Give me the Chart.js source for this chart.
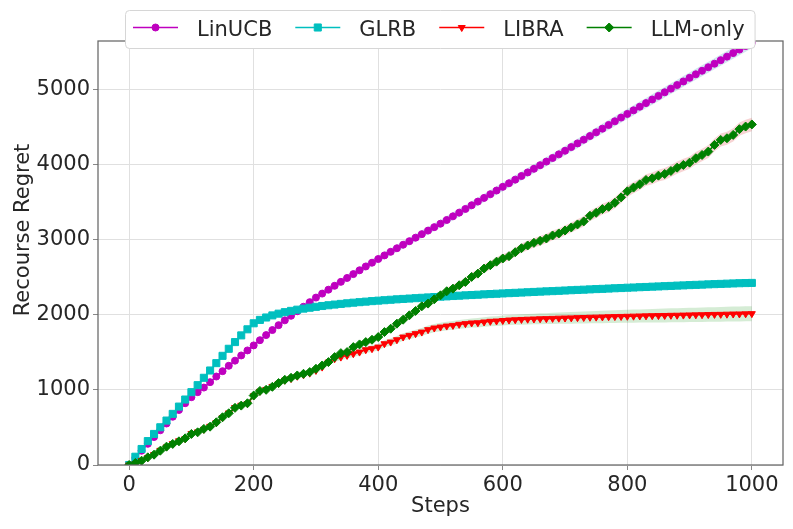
<!DOCTYPE html>
<html>
<head>
<meta charset="utf-8">
<script src="https://cdn.jsdelivr.net/npm/chart.js@4.4.1/dist/chart.umd.min.js"></script>
<style>
  html, body { margin: 0; padding: 0; background: #fff; }
</style>
</head>
<body>
<canvas id="regretChart" width="793" height="529"></canvas>
<script>
// steps 0..1000, one point every 10 steps
const steps = Array.from({ length: 101 }, (_, i) => i * 10);

const linucb = [
  0, 95, 190, 282, 372, 462, 552, 642, 732, 822,
  902, 969, 1030, 1102, 1177, 1248, 1320, 1388, 1457, 1524,
  1591, 1660, 1728, 1795, 1860, 1924, 1985, 2045, 2105, 2166,
  2227, 2280, 2332, 2384, 2436, 2488, 2539, 2590, 2641, 2691,
  2740, 2788, 2836, 2883, 2930, 2977, 3024, 3071, 3118, 3164,
  3210, 3259, 3308, 3357, 3406, 3455, 3504, 3553, 3602, 3651,
  3700, 3748, 3796, 3844, 3892, 3940, 3988, 4036, 4084, 4132,
  4180, 4229, 4278, 4327, 4376, 4425, 4474, 4523, 4572, 4621,
  4670, 4718, 4766, 4814, 4862, 4910, 4958, 5006, 5054, 5102,
  5150, 5197, 5244, 5291, 5338, 5385, 5432, 5479, 5526, 5573,
  5620
];
const glrb = [
  0, 110, 213, 318, 413, 502, 591, 680, 777, 871,
  969, 1062, 1160, 1257, 1355, 1452, 1546, 1635, 1724, 1805,
  1885, 1930, 1962, 1990, 2013, 2033, 2050, 2066, 2080, 2092,
  2104, 2115, 2125, 2134, 2143, 2151, 2159, 2166, 2173, 2180,
  2186, 2192, 2198, 2204, 2209, 2214, 2219, 2224, 2229, 2234,
  2239, 2243, 2248, 2252, 2257, 2261, 2265, 2270, 2274, 2278,
  2282, 2286, 2290, 2294, 2298, 2302, 2306, 2310, 2313, 2317,
  2321, 2325, 2329, 2332, 2336, 2340, 2343, 2347, 2351, 2354,
  2358, 2361, 2365, 2368, 2372, 2375, 2379, 2382, 2386, 2389,
  2393, 2396, 2399, 2403, 2406, 2409, 2412, 2415, 2418, 2420,
  2422
];
const libra = [
  0, 20, 60, 98, 140, 195, 240, 285, 322, 350,
  418, 440, 475, 515, 565, 630, 692, 765, 795, 818,
  920, 980, 1005, 1045, 1085, 1128, 1150, 1180, 1200, 1222,
  1258, 1302, 1369, 1413, 1435, 1458, 1480, 1502, 1533, 1547,
  1568, 1613, 1635, 1666, 1702, 1724, 1747, 1768, 1800, 1822,
  1835, 1848, 1857, 1871, 1880, 1889, 1892, 1902, 1911, 1915,
  1922, 1928, 1932, 1936, 1939, 1942, 1945, 1947, 1950, 1953,
  1955, 1957, 1960, 1962, 1965, 1967, 1969, 1972, 1974, 1976,
  1978, 1980, 1982, 1984, 1986, 1987, 1989, 1991, 1992, 1994,
  1996, 1997, 1999, 2001, 2003, 2004, 2006, 2008, 2009, 2011,
  2013
];
const llmOnly = [
  0, 27, 57, 102, 137, 190, 244, 280, 315, 355,
  413, 435, 480, 510, 568, 635, 688, 760, 790, 821,
  924, 985, 1000, 1040, 1090, 1133, 1160, 1191, 1213, 1236,
  1280, 1324, 1369, 1435, 1488, 1502, 1568, 1604, 1635, 1666,
  1702, 1768, 1813, 1880, 1933, 1991, 2049, 2111, 2147, 2204,
  2257, 2311, 2346, 2391, 2435, 2502, 2546, 2613, 2658, 2705,
  2747, 2778, 2831, 2884, 2920, 2955, 2982, 3013, 3053, 3080,
  3120, 3160, 3200, 3240, 3315, 3355, 3404, 3435, 3488, 3560,
  3640, 3690, 3733, 3791, 3813, 3849, 3871, 3911, 3955, 3991,
  4022, 4080, 4124, 4169, 4258, 4324, 4346, 4391, 4467, 4502,
  4530
];

// half-width of the shaded bands
const linucbStd = [
  0, 3, 6, 8, 10, 12, 14, 15, 17, 18,
  20, 21, 22, 23, 25, 26, 27, 28, 29, 30,
  31, 32, 33, 34, 35, 36, 36, 37, 38, 39,
  40, 40, 41, 42, 43, 43, 44, 45, 45, 46,
  47, 47, 48, 48, 49, 50, 50, 51, 51, 52,
  52, 53, 53, 54, 54, 55, 55, 56, 56, 57,
  57, 58, 58, 59, 59, 60, 60, 61, 61, 62,
  62, 63, 63, 64, 64, 65, 65, 66, 66, 67,
  67, 68, 68, 69, 69, 70, 70, 71, 71, 72,
  72, 73, 73, 74, 74, 75, 75, 76, 76, 77,
  77
];
const glrbStd = [
  0, 4, 6, 7, 8, 9, 10, 10, 11, 11,
  12, 12, 13, 13, 14, 14, 15, 15, 16, 16,
  16, 16, 17, 17, 17, 17, 18, 18, 18, 18,
  18, 19, 19, 19, 19, 19, 20, 20, 20, 20,
  20, 20, 21, 21, 21, 21, 21, 21, 21, 22,
  22, 22, 22, 22, 22, 22, 22, 23, 23, 23,
  23, 23, 23, 23, 23, 23, 24, 24, 24, 24,
  24, 24, 24, 24, 24, 24, 24, 25, 25, 25,
  25, 25, 25, 25, 25, 25, 25, 25, 25, 25,
  26, 26, 26, 26, 26, 26, 26, 26, 26, 26,
  26
];
const libraStd = [
  0, 3, 5, 7, 9, 10, 12, 13, 14, 15,
  16, 17, 18, 19, 20, 21, 22, 23, 24, 25,
  26, 27, 28, 29, 30, 31, 32, 33, 34, 35,
  36, 37, 38, 39, 40, 41, 42, 43, 44, 45,
  46, 47, 48, 49, 50, 51, 52, 53, 54, 55,
  56, 57, 58, 59, 60, 61, 62, 63, 64, 65,
  66, 67, 68, 69, 70, 71, 72, 73, 74, 75,
  76, 77, 78, 79, 80, 81, 82, 83, 84, 85,
  86, 87, 88, 89, 90, 91, 92, 93, 94, 95,
  95, 96, 96, 97, 97, 98, 98, 99, 99, 100,
  100
];
const llmStd = [
  0, 3, 5, 6, 8, 9, 10, 11, 12, 13,
  14, 15, 16, 17, 18, 19, 20, 21, 22, 23,
  24, 25, 26, 27, 28, 29, 30, 31, 32, 33,
  34, 35, 36, 37, 38, 38, 39, 40, 41, 42,
  42, 43, 44, 45, 46, 46, 47, 48, 49, 50,
  50, 51, 52, 53, 54, 54, 55, 56, 57, 58,
  58, 59, 60, 61, 62, 62, 63, 64, 65, 66,
  66, 67, 68, 69, 70, 70, 71, 72, 73, 74,
  74, 75, 76, 77, 78, 78, 79, 80, 81, 82,
  82, 83, 84, 85, 86, 86, 87, 88, 89, 90,
  90
];

const xTicks = [0, 200, 400, 600, 800, 1000];
const yTicks = [0, 1000, 2000, 3000, 4000, 5000];

const FONT = "'DejaVu Sans', sans-serif";
const TEXT = "#262626";

const series = [
  { label: "LinUCB", values: linucb, std: linucbStd, color: "#bf00bf", band: "rgba(31,119,180,0.2)", style: "circle", radius: 3.5, rotation: 0, order: 4 },
  { label: "GLRB", values: glrb, std: glrbStd, color: "#00bfbf", band: "rgba(255,127,14,0.2)", style: "rect", radius: 5, rotation: 0, order: 3 },
  { label: "LIBRA", values: libra, std: libraStd, color: "#ff0000", band: "rgba(44,160,44,0.2)", style: "triangle", radius: 4, rotation: 180, order: 2 },
  { label: "LLM-only", values: llmOnly, std: llmStd, color: "#008000", band: "rgba(214,39,40,0.2)", style: "rectRot", radius: 4.5, rotation: 0, order: 1 }
];

const datasets = [];
series.forEach(s => {
  datasets.push({
    label: s.label + " upper",
    data: s.values.map((v, i) => ({ x: steps[i], y: v + s.std[i] })),
    borderWidth: 0, pointRadius: 0, fill: false, order: 10
  });
  datasets.push({
    label: s.label + " lower",
    data: s.values.map((v, i) => ({ x: steps[i], y: v - s.std[i] })),
    borderWidth: 0, pointRadius: 0, fill: "-1", backgroundColor: s.band, order: 10
  });
  datasets.push({
    label: s.label,
    data: s.values.map((v, i) => ({ x: steps[i], y: v })),
    borderColor: s.color,
    backgroundColor: s.color,
    borderWidth: 1.5,
    pointStyle: s.style,
    pointRadius: s.radius,
    pointRotation: s.rotation,
    pointBackgroundColor: s.color,
    pointBorderColor: s.color,
    pointBorderWidth: 1,
    fill: false,
    tension: 0,
    order: s.order
  });
});

const framePlugin = {
  id: "frame",
  afterDatasetsDraw(chart) {
    const { ctx, chartArea: a } = chart;
    ctx.save();
    ctx.strokeStyle = "#666";
    ctx.lineWidth = 1.25;
    ctx.strokeRect(a.left, a.top, a.right - a.left, a.bottom - a.top);
    ctx.restore();
  }
};

const labelPlugin = {
  id: "labels",
  afterDraw(chart) {
    const ctx = chart.ctx;
    ctx.save();
    // y axis title
    ctx.font = "21px " + FONT;
    ctx.fillStyle = TEXT;
    ctx.translate(29, 230);
    ctx.rotate(-Math.PI / 2);
    ctx.textAlign = "center";
    ctx.textBaseline = "alphabetic";
    ctx.fillText("Recourse Regret", 0, 0);
    ctx.restore();

    // legend
    ctx.save();
    ctx.font = "21px " + FONT;
    const handle = 45, textPad = 19, colGap = 23;
    const left = 125, top = 10, h = 38;
    let w = 8;
    series.forEach((s, i) => {
      w += handle + textPad + ctx.measureText(s.label).width + (i < series.length - 1 ? colGap : 10);
    });
    ctx.beginPath();
    ctx.roundRect(left + 0.5, top + 0.5, w, h, 4);
    ctx.fillStyle = "#ffffff";
    ctx.fill();
    ctx.strokeStyle = "#d6d6d6";
    ctx.lineWidth = 1;
    ctx.stroke();

    let x = left + 8;
    const cy = 27.5;
    series.forEach(s => {
      ctx.strokeStyle = s.color;
      ctx.fillStyle = s.color;
      ctx.lineWidth = 1.5;
      ctx.beginPath();
      ctx.moveTo(x, cy);
      ctx.lineTo(x + handle, cy);
      ctx.stroke();
      ctx.lineWidth = 1;
      Chart.helpers.drawPoint(ctx, { pointStyle: s.style, radius: s.radius, rotation: s.rotation, borderWidth: 1 }, x + handle / 2, cy);
      ctx.fillStyle = TEXT;
      ctx.textAlign = "left";
      ctx.textBaseline = "alphabetic";
      ctx.fillText(s.label, x + handle + textPad, 36);
      x += handle + textPad + ctx.measureText(s.label).width + colGap;
    });
    ctx.restore();
  }
};

new Chart(document.getElementById("regretChart"), {
  type: "line",
  data: { datasets },
  options: {
    responsive: false,
    animation: false,
    devicePixelRatio: 1,
    layout: { padding: { top: 41, right: 10, bottom: 0, left: 0 } },
    plugins: { legend: { display: false }, tooltip: { enabled: false } },
    scales: {
      x: {
        type: "linear",
        min: -50,
        max: 1050,
        afterFit: scale => { scale.height = 64; scale.paddingLeft = 0; scale.paddingRight = 0; },
        afterBuildTicks: scale => { scale.ticks = xTicks.map(v => ({ value: v })); },
        ticks: { font: { family: FONT, size: 21 }, color: TEXT, padding: 3, maxRotation: 0, callback: v => String(v) },
        grid: { color: "#e0e0e0", tickLength: 5, tickColor: "#888" },
        border: { display: false },
        title: { display: true, text: "Steps", font: { family: FONT, size: 21 }, color: TEXT, padding: { top: 0, bottom: 10 } }
      },
      y: {
        min: 0,
        max: 5640,
        afterFit: scale => { scale.width = 98; },
        afterBuildTicks: scale => { scale.ticks = yTicks.map(v => ({ value: v })); },
        ticks: { font: { family: FONT, size: 21 }, color: TEXT, padding: 3, callback: v => String(v) },
        grid: { color: "#e0e0e0", tickLength: 5, tickColor: "#888" },
        border: { display: false }
      }
    }
  },
  plugins: [framePlugin, labelPlugin]
});
</script>
</body>
</html>
